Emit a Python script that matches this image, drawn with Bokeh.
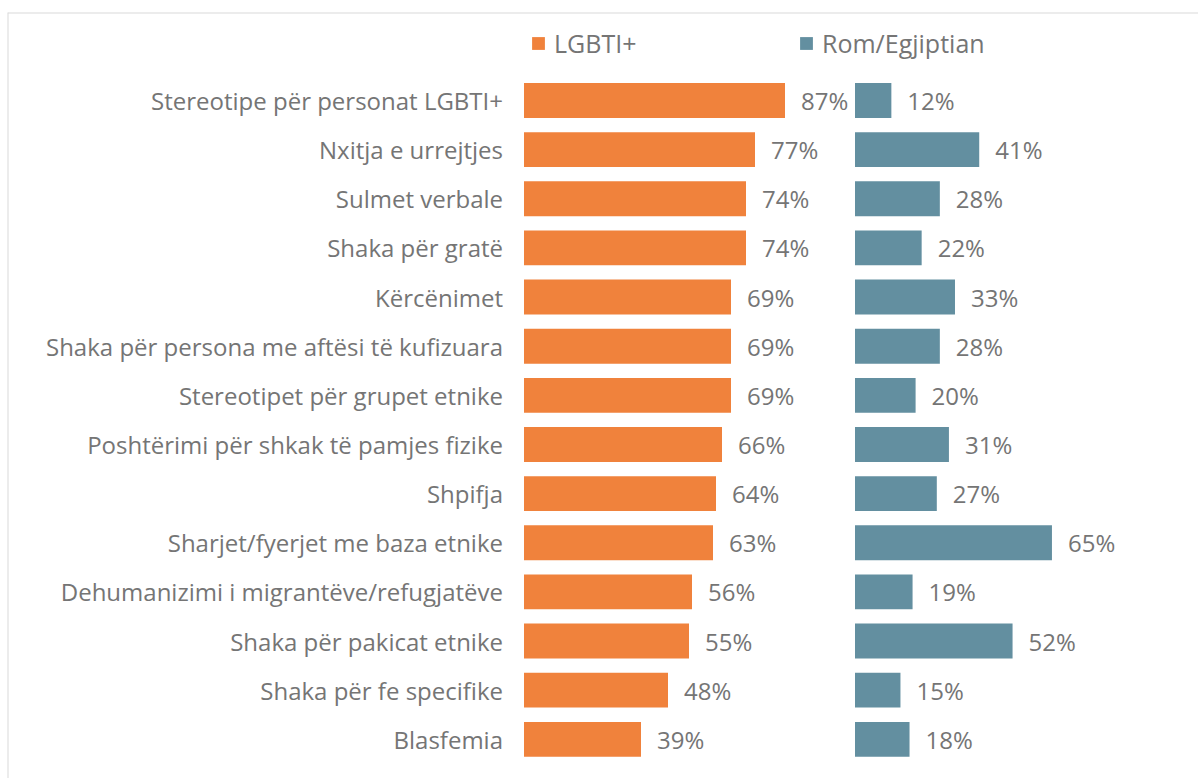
from bokeh.plotting import figure
from bokeh.models import ColumnDataSource, Range1d, Legend, LegendItem, Span
from bokeh.core.properties import value
from bokeh.embed import file_html
from bokeh.resources import INLINE

categories = [
    "Stereotipe për personat LGBTI+",
    "Nxitja e urrejtjes",
    "Sulmet verbale",
    "Shaka për gratë",
    "Kërcënimet",
    "Shaka për persona me aftësi të kufizuara",
    "Stereotipet për grupet etnike",
    "Poshtërimi për shkak të pamjes fizike",
    "Shpifja",
    "Sharjet/fyerjet me baza etnike",
    "Dehumanizimi i migrantëve/refugjatëve",
    "Shaka për pakicat etnike",
    "Shaka për fe specifike",
    "Blasfemia",
]
lgbti = [87, 77, 74, 74, 69, 69, 69, 66, 64, 63, 56, 55, 48, 39]
rom = [12, 41, 28, 22, 33, 28, 20, 31, 27, 65, 19, 52, 15, 18]
series_names = ["LGBTI+", "Rom/Egjiptian"]

ORANGE = "#F0823C"
TEAL = "#638FA0"
TEXT = "#757575"
FONT = "Open Sans"
FS = "24px"

pos = list(range(len(categories)))
src = ColumnDataSource(dict(
    y=pos,
    cat=categories,
    lg=lgbti,
    rm=rom,
    lg_lab=[f"{v}%" for v in lgbti],
    rm_lab=[f"{v}%" for v in rom],
))

SCALE_L = 3.0
SCALE_R = 3.03
W, H = 1198, 778
bl, bt = 7, 12
frame_w = W - bl
frame_h = H - bt
row_px = 49.14
y_top = -(100 - bt) / row_px
y_bot = y_top + frame_h / row_px
x0_left = 523.5 - bl
x0_right = 854.5 - bl

p = figure(width=W, height=H, output_backend="svg", toolbar_location=None,
           x_range=Range1d(-x0_left / SCALE_L, (frame_w - x0_left) / SCALE_L),
           y_range=Range1d(y_bot, y_top),
           min_border_left=bl, min_border_right=0, min_border_bottom=0,
           min_border_top=bt, x_axis_location=None, y_axis_location=None)
p.extra_x_ranges = {"right": Range1d(-x0_right / SCALE_R, (frame_w - x0_right) / SCALE_R)}
p.grid.visible = False
p.outline_line_color = None
p.background_fill_color = "white"
p.border_fill_color = "white"

r1 = p.hbar(y="y", left=0, right="lg", height=0.71, source=src,
            fill_color=ORANGE, line_color=None)
r2 = p.hbar(y="y", left=0, right="rm", height=0.71, source=src,
            fill_color=TEAL, line_color=None, x_range_name="right")

p.text(x=0, y="y", text="cat", source=src, x_offset=-21,
       text_align="right", text_baseline="middle",
       text_font=value(FONT), text_font_size=FS, text_color=TEXT)
p.text(x="lg", y="y", text="lg_lab", source=src, x_offset=16,
       text_align="left", text_baseline="middle",
       text_font=value(FONT), text_font_size=FS, text_color=TEXT)
p.text(x="rm", y="y", text="rm_lab", source=src, x_offset=16,
       text_align="left", text_baseline="middle",
       text_font=value(FONT), text_font_size=FS, text_color=TEXT,
       x_range_name="right")

legend = Legend(items=[LegendItem(label=series_names[0], renderers=[r1]),
                       LegendItem(label=series_names[1], renderers=[r2])],
                orientation="horizontal", location=(523, 718),
                glyph_width=16, glyph_height=16, label_standoff=8,
                label_width=244, spacing=0, padding=0, margin=0,
                border_line_color=None, background_fill_alpha=0,
                label_text_font=FONT, label_text_font_size="25px",
                label_text_color=TEXT)
p.add_layout(legend)

p.add_layout(Span(location=y_top, dimension="width", line_color="#D9D9D9", line_width=2))
p.add_layout(Span(location=p.x_range.start, dimension="height", line_color="#D9D9D9", line_width=2))

open("out.html", "w").write(file_html(p, INLINE))
